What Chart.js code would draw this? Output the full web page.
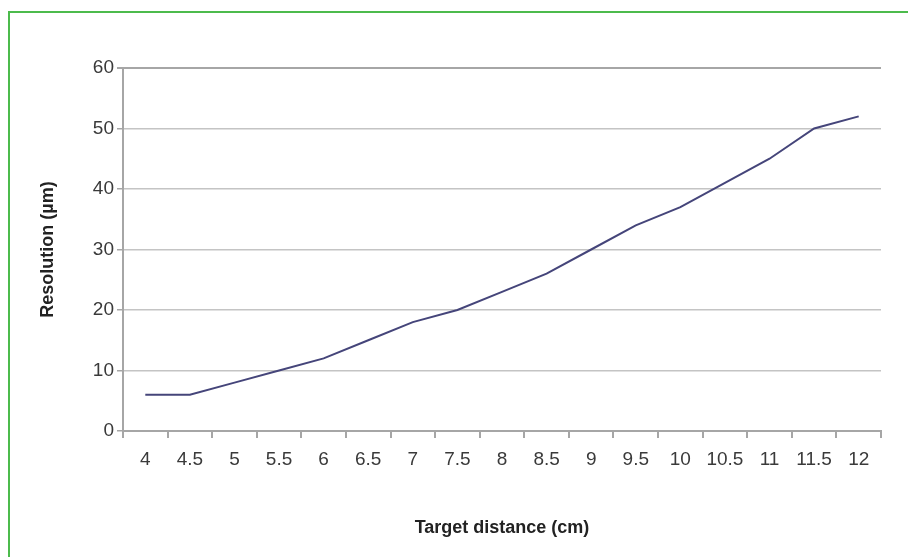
<!DOCTYPE html>
<html>
<head>
<meta charset="utf-8">
<script src="https://cdn.jsdelivr.net/npm/chart.js@4/dist/chart.umd.min.js"></script>
<style>
  html, body { margin: 0; padding: 0; background: #fff; }
  #wrap { position: relative; width: 908px; height: 557px; overflow: hidden; }
  #frame {
    position: absolute; left: 8px; top: 11px; width: 1200px; height: 900px;
    border-left: 2px solid #4cbb4c; border-top: 2px solid #4cbb4c;
  }
  canvas { position: absolute; left: 0; top: 0; }
</style>
</head>
<body>
<div id="wrap">
  <div id="frame"></div>
  <canvas id="chart" width="908" height="557"></canvas>
</div>
<script>
// target distance (cm)
const distances = ["4", "4.5", "5", "5.5", "6", "6.5", "7", "7.5", "8", "8.5", "9", "9.5", "10", "10.5", "11", "11.5", "12"];
// resolution (µm)
const resolution = [6, 6, 8, 10, 12, 15, 18, 20, 23, 26, 30, 34, 37, 41, 45, 50, 52];

const yMin = 0;
const yMax = 60;
const yStep = 10;

const fontFamily = "'Liberation Sans', Arial, sans-serif";
const axisGray = "#a6a6a6";
const gridGray = "#c4c4c4";

const data = {
  labels: distances,
  datasets: [
    {
      data: resolution,
      borderColor: "#45457a",
      borderWidth: 2,
      pointRadius: 0,
      tension: 0,
      fill: false,
    },
  ],
};

const config = {
  type: "line",
  data,
  options: {
    responsive: false,
    animation: false,
    layout: { padding: { left: 0, top: 68, right: 27, bottom: 0 } },
    plugins: {
      legend: { display: false },
      tooltip: { enabled: false },
    },
    scales: {
      x: {
        offset: true,
        grid: {
          offset: true,
          drawOnChartArea: true,
          color: (ctx) => (ctx.index === distances.length ? axisGray : "rgba(0,0,0,0)"),
          tickColor: axisGray,
          tickLength: 7,
          lineWidth: 2,
        },
        border: { color: axisGray, width: 2 },
        ticks: {
          color: "#3a3a3a",
          font: { family: fontFamily, size: 19 },
          padding: 10,
          maxRotation: 0,
          autoSkip: false,
        },
        title: {
          display: true,
          text: "Target distance (cm)",
          color: "#222",
          font: { family: fontFamily, size: 18, weight: "bold" },
          padding: { bottom: 18 },
        },
        afterFit: (scale) => { scale.height = 126; },
      },
      y: {
        min: yMin,
        max: yMax,
        grid: {
          color: (ctx) => (ctx.tick.value === yMax ? axisGray : gridGray),
          tickColor: axisGray,
          tickLength: 6,
          lineWidth: (ctx) => (ctx.tick.value === yMax ? 2 : 1.5),
        },
        border: { color: axisGray, width: 2 },
        ticks: {
          stepSize: yStep,
          color: "#3a3a3a",
          font: { family: fontFamily, size: 19 },
          padding: 3,
        },
        title: {
          display: true,
          text: "Resolution (µm)",
          color: "#222",
          font: { family: fontFamily, size: 18, weight: "bold" },
          padding: { top: 37 },
        },
        afterFit: (scale) => { scale.width = 123; },
      },
    },
  },
};

let chart = new Chart(document.getElementById("chart"), config);
</script>
</body>
</html>
